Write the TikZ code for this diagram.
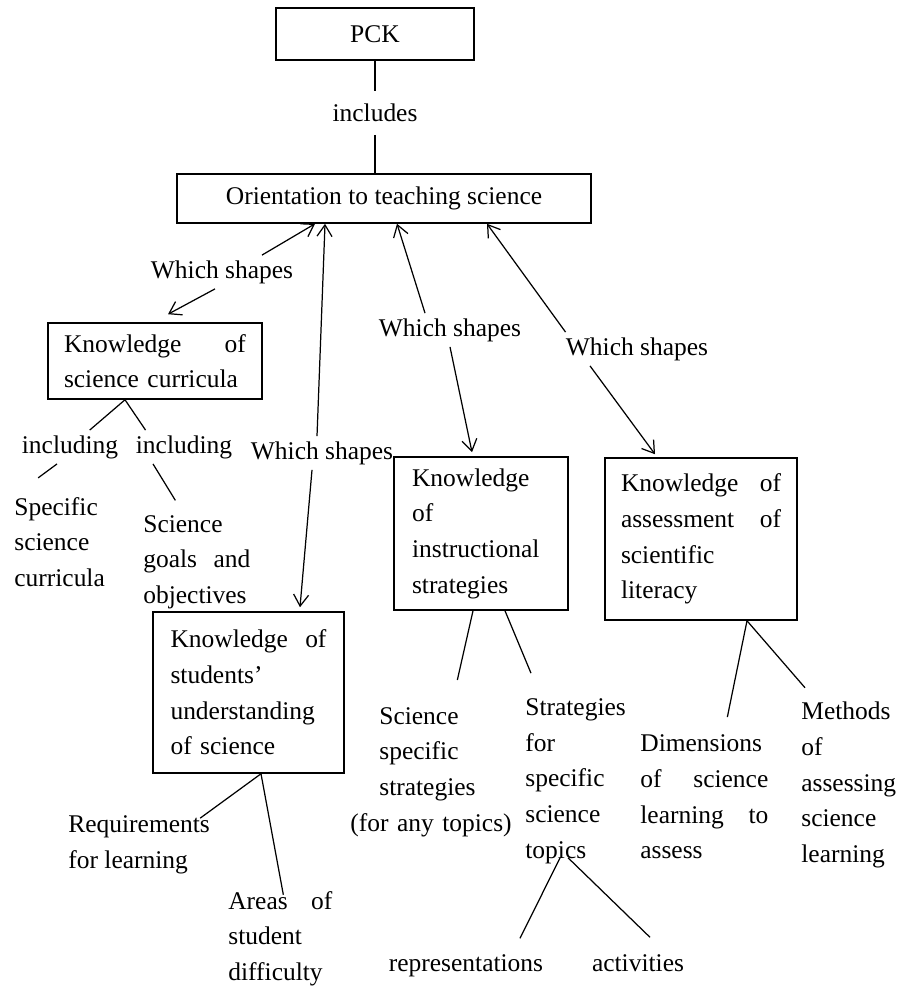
\documentclass[tikz,border=0pt]{standalone}
\usepackage{fontspec}
\setmainfont{Liberation Serif}
\usepackage{tikz}
\usetikzlibrary{arrows.meta}
\setlength{\parindent}{0pt}

\begin{document}
\begin{tikzpicture}[x=0.02cm,y=-0.02cm,>={Straight Barb[length=2.3mm,width=3mm]},
  every node/.style={font=\fontsize{14.5}{20.3}\selectfont},
  box/.style={draw,line width=0.9pt,align=left,inner ysep=0pt},
  lbl/.style={inner sep=0.1cm},
  txt/.style={anchor=west,inner sep=0pt,align=left},
  link/.style={line width=0.7pt}]
\useasboundingbox (0,0) rectangle (899,989);

% boxes
\node[box,align=center,minimum width=3.96cm,minimum height=1.04cm] (pck) at (375,34) {PCK};
\node[box,align=center,minimum width=8.28cm,minimum height=0.98cm] (orient) at (384,198.5) {Orientation to teaching science};
\node[box,text width=3.64cm,inner xsep=0.32cm,minimum height=1.52cm] (curr) at (155,361) {Knowledge\hfill of\\science curricula};
\node[box,text width=3.12cm,inner xsep=0.35cm,minimum height=3.22cm] (stud) at (248.5,692.5) {Knowledge\hfill of\\students'\\understanding\\of science};
\node[box,text width=2.76cm,inner xsep=0.36cm,minimum height=3.06cm] (instr) at (481,533.5) {Knowledge\\of\\instructional\\strategies};
\node[box,text width=3.2cm,inner xsep=0.32cm,minimum height=3.24cm] (assess) at (701,539) {Knowledge\hfill of\\assessment\hfill of\\scientific\\literacy};

% labels
\node[lbl,inner sep=0.25cm] (inc) at (375,113) {includes};
\node[lbl] (ws1) at (222,272) {Which shapes};
\node[lbl] (ws2) at (322,453) {Which shapes};
\node[lbl] (ws3) at (450,330) {Which shapes};
\node[lbl] (ws4) at (637,349) {Which shapes};
\node[lbl] (incl1) at (70,447) {including};
\node[lbl] (incl2) at (184,447) {including};

% leaves
\node[txt] (spec) at (14,542) {Specific\\science\\curricula};
\node[txt,text width=2.14cm] (goals) at (143,562) {Science\\goals\hfill and\\objectives};
\node[txt] (req) at (68,844.5) {Requirements\\for learning};
\node[txt,text width=2.08cm] (areas) at (228,938.5) {Areas\hfill of\\student\\difficulty};
\node[txt,text width=2.8cm] (sss) at (379,772) {Science\\specific\\strategies\\\hspace*{-0.58cm}\mbox{(for any topics)}};
\node[txt] (sst) at (525,781) {Strategies\\for\\specific\\science\\topics};
\node[anchor=base,inner sep=0pt] (repr) at (466,971) {representations};
\node[anchor=base,inner sep=0pt] (act) at (638,971) {activities};
\node[txt,text width=2.56cm] (dims) at (640,797) {Dimensions\\of\hfill science\\learning\hfill to\\assess};
\node[txt] (meth) at (801,785) {Methods\\of\\assessing\\science\\learning};

% PCK
\draw[link] (pck) -- (inc);
\draw[link] (inc) -- (inc |- orient.north);

% which shapes
\draw[link,->] ([xshift=0.8cm]ws1.north) -- ([xshift=-1.38cm]orient.south);
\draw[link,->] ([xshift=-0.14cm]ws1.south) -- ([xshift=0.26cm,yshift=0.16cm]curr.north);
\draw[link,->] ([xshift=-0.1cm]ws2.north) -- ([xshift=-1.18cm]orient.south);
\draw[link,->] ([xshift=-0.2cm]ws2.south) -- ([xshift=1.03cm,yshift=0.08cm]stud.north);
\draw[link,->] ([xshift=-0.5cm]ws3.north) -- ([xshift=0.26cm]orient.south);
\draw[link,->] (ws3.south) -- ([xshift=-0.18cm,yshift=0.08cm]instr.north);
\draw[link,->] ([xshift=0.1cm]ws4.north west) -- ([xshift=2.06cm]orient.south);
\draw[link,->] ([xshift=-0.94cm]ws4.south) -- ([xshift=-0.92cm,yshift=0.06cm]assess.north);

% curricula
\draw[link] ([xshift=-0.6cm]curr.south) -- (incl1);
\draw[link] ([xshift=-0.6cm]curr.south) -- ([xshift=0.3cm]incl2.north west);
\draw[link] ([xshift=-0.26cm]incl1.south) -- ([xshift=-0.43cm,yshift=0.38cm]spec.north);
\draw[link] ([xshift=-0.62cm]incl2.south) -- ([xshift=-0.43cm,yshift=0.29cm]goals.north);

% students
\draw[link] ([xshift=0.25cm]stud.south) -- ([xshift=-0.2cm,yshift=-0.06cm]req.north east);
\draw[link] ([xshift=0.25cm]stud.south) -- ([xshift=0.06cm,yshift=-0.08cm]areas.north);

% strategies
\draw[link] ([xshift=-0.16cm]instr.south) -- ([xshift=0.16cm,yshift=0.54cm]sss.north);
\draw[link] ([xshift=0.48cm]instr.south) -- ([xshift=0.12cm,yshift=0.5cm]sst.north west);
\draw[link] ([xshift=-0.31cm,yshift=0.12cm]sst.south) -- ([xshift=-0.47cm,yshift=0.31cm]repr.north east);
\draw[link] ([xshift=-0.15cm,yshift=0.12cm]sst.south) -- ([xshift=0.24cm,yshift=0.33cm]act.north);

% assessment
\draw[link] ([xshift=0.92cm]assess.south) -- ([xshift=0.46cm,yshift=0.35cm]dims.north);
\draw[link] ([xshift=0.92cm]assess.south) -- ([xshift=0.08cm,yshift=0.28cm]meth.north west);
\end{tikzpicture}
\end{document}
